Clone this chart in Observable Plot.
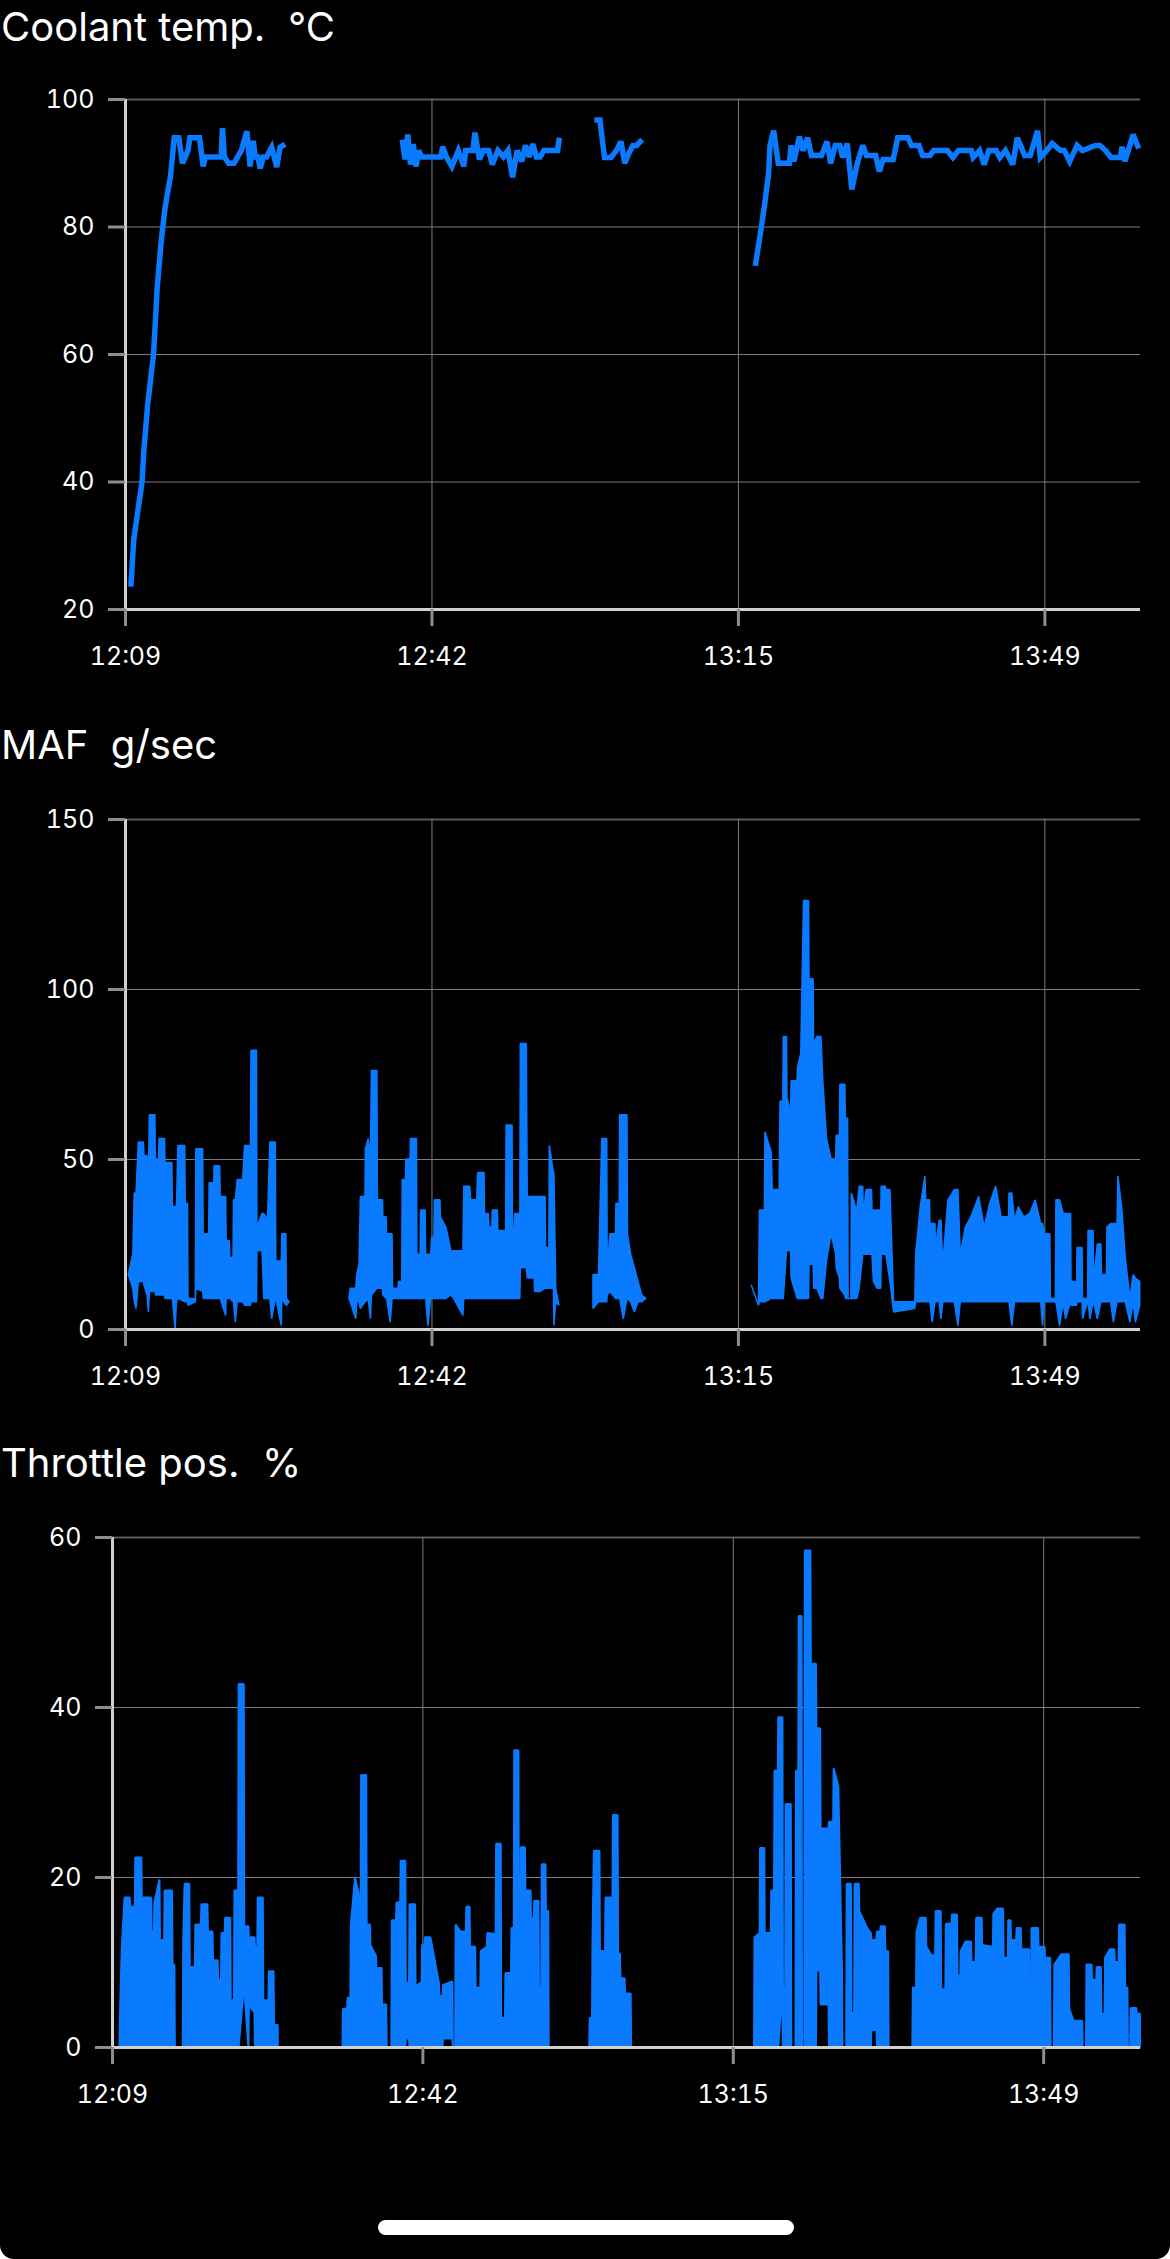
<!DOCTYPE html>
<html><head><meta charset="utf-8">
<script src="https://cdn.jsdelivr.net/npm/d3@7"></script>
<script src="https://cdn.jsdelivr.net/npm/@observablehq/plot@0.6"></script>
<style>
html,body{margin:0;padding:0;background:#fff;}
#screen{position:relative;width:1170px;height:2259px;background:#000;overflow:hidden;border-radius:0 0 14px 14px;font-family:Inter,"Noto Sans",sans-serif;}
.title{position:absolute;left:1px;color:#fff;font-size:40px;line-height:40px;white-space:pre;}
.chart{position:absolute;left:0;width:1170px;}
#homebar{position:absolute;left:378px;top:2220px;width:416px;height:15px;border-radius:7.5px;background:#fff;}
</style></head><body>
<div id="screen">
  <div class="title" style="top:6.5px">Coolant temp.  °C</div>
  <div class="chart" id="c1" style="top:60px"></div>
  <div class="title" style="top:725px">MAF  g/sec</div>
  <div class="chart" id="c2" style="top:780px"></div>
  <div class="title" style="top:1443px">Throttle pos.  %</div>
  <div class="chart" id="c3" style="top:1498px"></div>
  <div id="homebar"></div>
</div>
<script>
// time axis: minutes after 12:09
const xTicks = [0, 100/3, 200/3, 100];
const xLabels = ["12:09", "12:42", "13:15", "13:49"];
const xDomain = [0, 110.4];

// Coolant temperature (°C): [minute, value]
const coolantSeg1 = [[0.3,24],[0.6,24],[0.9,31],[1.8,40],[2.0,45],[2.4,52],[3.05,60],[3.45,70.5],[3.9,78],[4.3,83],[4.9,88],[5.3,94],[5.8,94],[6.2,90],[6.8,92],[7.0,94],[8.05,94],[8.45,89.5],[8.7,91],[10.4,91],[10.55,95.5],[10.75,91],[11.2,90],[11.8,90],[12.2,91],[12.6,92],[13.2,95],[13.55,89.5],[13.9,93.5],[14.1,91],[14.4,91],[14.65,89.2],[15.0,91],[15.35,91],[15.9,92.5],[16.45,89.4],[16.8,92.5],[17.35,93]];
const coolantSeg2 = [[30.1,93.7],[30.4,90.6],[30.7,94.5],[31.0,89.8],[31.3,93],[31.6,89.5],[31.9,92],[32.2,91],[34.3,91],[34.5,92.6],[34.9,91],[35.5,89.5],[36.2,92],[36.8,89.5],[37.0,92],[37.8,92],[38.0,94.8],[38.5,90.6],[38.9,92],[39.5,92],[39.9,89.8],[40.5,92],[41.1,91],[41.6,92],[42.1,87.8],[42.6,92],[43.1,90.3],[43.5,92.8],[43.9,91],[44.3,93],[44.7,91],[45.1,91],[45.5,92],[47.0,92],[47.2,94]];
const coolantSeg3 = [[51.0,96.8],[51.6,96.8],[52.1,90.9],[52.8,90.9],[53.4,92],[53.9,93.4],[54.3,90],[54.8,91.7],[55.2,92.8],[55.6,92.8],[56.2,93.7]];
const coolantSeg4 = [[68.5,73.9],[69.1,79.4],[69.5,83.4],[69.95,88.4],[70.1,92.8],[70.5,95.1],[71.0,90],[72.2,90],[72.4,92.8],[72.7,90.3],[73.3,94.2],[73.7,92],[74.2,94],[74.6,91.2],[75.7,91.2],[76.3,93.4],[76.7,90],[77.2,92.8],[77.7,92.8],[78.0,90.9],[78.5,93.1],[79.0,85.9],[79.6,90],[80.2,92.8],[80.6,91.2],[81.6,91.2],[82.0,88.7],[82.4,90.6],[83.5,90.6],[84.0,94],[85.1,94],[85.5,92.8],[86.3,92.8],[86.7,91.2],[87.5,91.2],[87.9,92],[89.4,92],[90.0,90.9],[90.6,92],[92.0,92],[92.2,90.9],[92.9,92],[93.4,89.8],[93.9,92],[94.7,92],[95.1,90.9],[95.7,92],[96.5,89.8],[97.0,94],[97.8,91.2],[98.4,91.2],[99.2,95.1],[99.5,90.9],[100.2,92],[100.8,93.1],[101.7,92],[102.1,92],[102.7,90.3],[103.5,92.8],[104.1,92],[105.5,92.8],[106.0,92.8],[106.6,92],[107.2,90.9],[108.2,90.9],[108.4,92.6],[108.7,90.3],[109.6,94.5],[110.2,92.3]];

// MAF (g/sec): [minute, high, low] of the densely sampled signal
const mafSeg1 = [[0.35,16,16],[0.85,22,12],[1.0,40,8],[1.2,40,6],[1.45,55,14],[2.0,55,14],[2.05,51,13],[2.4,51,10],[2.55,45,5],[2.65,63,11],[3.25,63,11],[3.3,50,10],[3.65,50,10],[3.7,56,10],[4.3,56,10],[4.35,49,9],[5.1,49,9],[5.15,36,9],[5.45,36,0],[5.6,36,8],[5.75,54,9],[6.5,54,8],[6.55,37,8],[6.8,37,8],[6.85,9,7],[7.65,9,8],[7.7,53,12],[8.45,53,11],[8.5,28,9],[9.1,28,9],[9.15,43,9],[9.65,43,9],[9.7,48,9],[10.3,48,9],[10.35,39,9],[10.95,39,4],[11.0,26,9],[11.35,26,9],[11.4,21,9],[11.75,21,8],[11.8,38,8],[12.0,38,2],[12.2,44,8],[12.8,44,8],[13.0,54,7],[13.65,54,7],[13.7,82,8],[14.3,82,8],[14.35,30,23],[14.9,34,23],[15.1,34,9],[15.5,32,9],[15.75,55,9],[15.95,55,3],[16.35,55,9],[16.4,20,9],[17.0,20,1],[17.05,28,9],[17.5,28,7],[17.55,9,7],[17.85,8,8]];
const mafSeg2 = [[24.35,9,9],[24.5,12,8],[25.1,12,3],[25.2,16,8],[25.45,19,8],[25.6,39,6],[26.1,39,8],[26.15,53,8],[26.45,56,9],[26.7,51,3],[26.8,76,10],[27.4,76,12],[27.45,38,12],[28.0,38,12],[28.05,33,10],[28.4,33,9],[28.45,28,9],[28.85,28,2],[29.05,28,9],[29.1,12,9],[29.7,12,9],[29.75,14,9],[30.1,14,9],[30.15,44,9],[30.5,44,9],[30.55,50,9],[31.0,50,9],[31.05,56,9],[31.7,56,9],[31.75,22,9],[32.1,22,9],[32.15,35,9],[32.65,35,9],[32.7,22,9],[32.95,22,1],[33.25,22,9],[33.35,27,9],[33.6,27,9],[33.65,38,9],[34.25,38,9],[34.3,33,9],[34.9,30,9],[35.45,23,10],[35.75,23,9],[36.75,23,4],[36.85,42,9],[37.5,42,9],[37.6,38,9],[38.25,38,9],[38.35,46,9],[39.05,46,9],[39.1,34,9],[39.5,34,9],[39.6,30,9],[39.9,30,9],[39.95,35,9],[40.5,35,9],[40.55,29,9],[41.4,29,9],[41.45,60,9],[42.1,60,9],[42.15,23,9],[42.4,34,9],[42.95,34,9],[43.0,84,18],[43.65,84,18],[43.75,39,15],[44.5,39,15],[44.55,39,11],[45.1,39,11],[45.7,39,12],[45.75,24,12],[46.1,24,12],[46.15,54,12],[46.6,46,12],[46.65,46,1],[46.85,12,8],[47.2,7,7]];
const mafSeg3 = [[50.9,16,6],[51.5,16,8],[51.85,56,8],[52.4,56,8],[52.45,18,10],[52.75,28,11],[53.35,28,9],[53.4,37,9],[53.75,37,9],[53.8,63,9],[54.2,63,3],[54.6,63,9],[54.65,28,9],[55.0,22,8],[55.4,18,5],[55.8,14,8],[56.2,10,8],[56.65,9,9]];
const mafSeg4 = [[68.1,13,13],[68.9,7,7],[69.0,35,8],[69.55,35,8],[69.6,58,8],[70.3,52,9],[70.4,41,9],[71.15,41,9],[71.25,67,9],[71.55,67,9],[71.6,86,9],[71.95,86,23],[72.0,68,23],[72.4,64,23],[72.45,73,15],[73.1,73,9],[73.15,77,9],[73.5,81,9],[73.8,126,9],[74.35,126,9],[74.4,103,19],[74.85,103,19],[74.9,84,12],[75.25,86,12],[75.7,86,9],[75.9,73,9],[76.3,56,20],[76.8,50,28],[77.3,50,22],[77.35,57,18],[77.7,57,15],[77.75,72,12],[78.3,72,10],[78.35,62,9],[78.6,62,9],[78.65,9,9],[78.95,9,9],[79.0,40,9],[79.55,35,9],[79.6,35,9],[79.85,42,12],[80.25,42,22],[80.3,33,22],[80.6,41,22],[81.2,41,22],[81.25,35,22],[81.4,35,14],[81.8,35,12],[82.2,35,12],[82.25,42,22],[82.7,42,22],[82.75,41,22],[83.2,41,14],[83.6,8,5],[85.9,8,6],[86.0,22,8],[86.5,36,8],[87.0,45,8],[87.1,38,8],[87.5,38,8],[87.55,31,8],[87.8,31,2],[88.1,31,8],[88.15,24,8],[88.55,32,8],[88.75,32,3],[88.95,19,8],[89.5,38,8],[90.2,41,8],[90.6,41,1],[90.85,22,8],[91.4,30,8],[92.0,33,8],[92.85,39,8],[93.45,30,8],[94.05,37,8],[94.7,42,8],[95.3,33,8],[96.1,33,8],[96.15,40,8],[96.45,40,1],[96.75,32,8],[97.15,36,8],[97.75,33,8],[98.4,34,8],[99.0,38,8],[99.6,31,8],[99.8,31,1],[100.0,28,8],[100.6,28,8],[100.65,9,8],[101.2,9,8],[101.25,38,8],[101.65,38,1],[102.05,34,8],[102.3,34,3],[102.85,34,8],[102.9,14,7],[103.5,14,7],[103.55,24,8],[104.1,24,8],[104.15,9,3],[104.7,9,8],[104.75,29,8],[104.95,29,3],[105.3,29,8],[105.35,14,8],[105.75,25,3],[106.15,25,8],[106.2,16,8],[106.75,16,8],[106.8,30,8],[107.2,31,8],[107.5,31,2],[107.9,31,8],[108.0,45,8],[108.4,36,8],[108.8,21,8],[109.3,9,2],[109.65,16,8],[109.9,15,2],[110.37,14,7]];

// Throttle position (%): [minute, high, low]
const thrSeg1 = [[0.4,0,0],[0.8,0,0],[0.85,3.4,0],[1.05,11.8,0],[1.35,17.6,0],[1.9,17.6,0],[1.95,16.5,0],[2.45,16.5,0],[2.5,22.3,0],[3.15,22.3,0],[3.2,17.3,0],[3.4,17.6,0],[4.2,17.6,0],[4.25,13.6,0],[4.5,13.6,0],[4.55,17,0],[5.1,19.7,0],[5.15,12.6,0],[5.6,12.6,0],[5.65,18.4,0],[6.45,18.4,0],[6.5,9.7,0],[6.7,9.7,0],[6.75,0,0],[7.6,0,0],[7.65,12.6,0],[7.8,19.2,0],[8.3,19.2,0],[8.35,9.4,0],[8.9,9.4,0],[8.95,14.4,0],[9.55,14.4,0],[9.6,16.8,0],[10.25,16.8,0],[10.3,13.6,0],[10.8,13.6,0],[10.85,10.2,0],[11.35,10.2,0],[11.4,7.9,0],[11.7,7.9,0],[11.75,13.4,0],[12.1,13.4,0],[12.15,15.2,0],[12.7,15.2,0],[12.75,5.5,0],[13.1,5.5,0],[13.15,18.4,0],[13.55,18.4,0],[13.6,42.7,0],[14.15,42.7,7],[14.2,14.2,7],[14.65,14.2,0],[14.7,12.9,5],[15.3,12.9,4],[15.35,11.8,0],[15.6,11.8,0],[15.65,17.6,0],[16.2,17.6,0],[16.25,5.5,0],[16.8,5.5,0],[16.85,8.9,0],[17.35,8.9,0],[17.4,2.6,0],[17.8,2.6,0]];
const thrSeg2 = [[24.45,0,0],[24.75,0,0],[24.8,4.5,0],[25.25,4.5,0],[25.3,5.8,0],[25.6,5.8,0],[25.65,14.4,0],[26.1,19.9,0],[26.5,18,0],[26.55,14.4,0],[26.7,14.4,0],[26.75,32,0],[27.3,32,0],[27.35,14.4,0],[27.7,14.4,0],[27.75,12,0],[28.35,10.7,0],[28.4,9.3,0],[28.95,9.3,0],[29.0,5,0],[29.45,5,0],[29.5,0,0],[30.0,0,0],[30.05,14.9,0],[30.5,14.9,0],[30.55,17,0],[30.95,17,0],[31.0,21.9,0],[31.5,21.9,0],[31.55,7.6,1],[31.9,7.6,1],[31.95,16.8,0],[32.55,16.8,0],[32.6,7.2,0],[33.25,7.6,0],[33.3,12,0],[33.55,12,0],[33.6,12.9,0],[34.2,12.9,0],[35.1,7.6,0],[35.15,6,0],[35.5,6,0],[35.55,7.3,1],[36.55,7.7,1],[36.6,0,0],[36.85,0,0],[36.9,14.4,0],[37.4,13.6,0],[38.0,13.6,0],[38.05,16.5,0],[38.4,16.5,0],[38.45,11.8,0],[39.0,11.8,0],[39.05,7,0],[39.55,7,0],[39.6,11.3,0],[40.25,11.8,0],[40.3,13.4,0],[41.2,13.3,0],[41.25,23.9,0],[41.75,23.9,0],[41.8,3.4,0],[42.2,3.4,0],[42.25,8.7,0],[42.85,8.7,0],[42.9,14,0],[43.15,14,0],[43.2,34.9,0],[43.65,34.9,0],[43.7,5,0],[43.85,5,0],[43.9,23.5,0],[44.35,23.5,0],[44.4,18.4,0],[44.95,18.4,0],[45.0,15.2,0],[45.3,15.2,0],[45.35,17.2,0],[45.8,17.2,0],[45.85,7,0],[46.1,7,0],[46.15,21.5,0],[46.55,21.5,0],[46.6,16,0],[46.85,16,0],[46.9,0,0],[47.05,0,0]];
const thrSeg3 = [[50.95,0,0],[51.25,0,0],[51.3,3.4,0],[51.55,3.4,0],[51.6,12.3,0],[51.75,23.1,0],[52.35,23.1,0],[52.4,11.3,0],[52.95,11.3,0],[53.0,17.6,0],[53.75,17.6,0],[53.8,27.3,0],[54.3,27.3,0],[54.35,11,0],[54.55,11,0],[54.6,8.1,0],[55.05,8.1,0],[55.1,6.3,0],[55.7,6.3,0],[55.75,0,0],[56.2,0,0]];
const thrSeg4 = [[68.15,0,0],[68.95,0,0],[69.0,12.9,0],[69.55,13.4,0],[69.6,23.4,0],[70.05,23.4,0],[70.1,13.4,0],[70.75,13.4,0],[70.8,18.4,0],[71.1,18.4,0],[71.15,32.5,0],[71.5,32.5,0],[71.55,38.8,0],[72.0,38.8,7],[72.05,7,0],[72.3,7,0],[72.35,28.6,0],[72.9,28.6,0],[72.95,0,0],[73.4,0,0],[73.45,32.5,0],[73.7,32.5,0],[73.75,50.7,0],[74.05,50.7,0],[74.1,0,0],[74.35,0,0],[74.4,58.4,0],[75.0,58.4,0],[75.05,45.1,0],[75.6,45.1,0],[75.65,37.5,9],[76.05,37.5,9],[76.1,25.7,5],[76.95,25.7,5],[77.0,26.5,0],[77.45,26.5,0],[77.5,32.8,0],[78.0,30.7,0],[78.4,9,0],[78.45,0,0],[78.85,0,0],[78.9,19.2,0],[79.35,19.2,0],[79.4,4,0],[79.7,4,0],[79.75,19.2,0],[80.2,19.2,0],[80.25,16,0],[81.1,14,0],[81.5,13.4,0],[81.55,12.6,2],[82.1,12.6,2],[82.15,13.6,0],[82.5,13.6,0],[82.55,14.2,0],[83.0,14.2,0],[83.05,11.3,0],[83.35,11.3,0],[83.4,0,0],[85.95,0,0],[86.0,7,0],[86.35,7,0],[86.4,13.6,0],[86.8,15.2,0],[87.4,15.2,0],[87.45,11.8,0],[88.0,10.8,0],[88.4,10.8,0],[88.45,16,0],[89.0,16,0],[89.05,6.8,0],[89.5,6.8,0],[89.55,14.5,0],[90.15,14.5,0],[90.2,15.6,0],[90.75,15.6,0],[90.8,8.4,0],[91.1,8.4,0],[91.15,11.3,0],[91.65,12.4,0],[92.25,12.4,0],[92.3,10,0],[92.75,10,0],[92.8,15.2,0],[93.4,15.2,0],[93.45,12,0],[94.6,11.8,0],[94.65,15.7,0],[95.1,16.3,0],[95.7,16.3,0],[95.75,10.5,0],[96.2,10.5,0],[96.25,14.9,0],[96.5,14.9,0],[96.55,12.6,0],[97.1,12.6,0],[97.15,14,0],[97.6,14,0],[97.65,11.5,0],[98.5,11.5,0],[98.55,0,0],[98.7,0,0],[98.75,14,0],[99.45,14,0],[99.5,11.8,0],[100.15,11.8,0],[100.2,10.5,0],[100.75,10.5,0],[100.8,0,0],[101.15,0,0],[101.2,9.7,0],[101.95,10.9,0],[102.75,10.9,0],[102.8,4.5,0],[103.25,3.1,0],[104.2,3.1,0],[104.25,0,0],[104.6,0,0],[104.65,9.7,0],[105.2,9.7,0],[105.25,7.9,0],[105.7,7.9,0],[105.75,9.4,0],[106.2,9.4,0],[106.25,3.9,0],[106.6,3.9,0],[106.65,10.5,0],[107.15,11.5,0],[107.65,11.5,0],[107.7,10,0],[108.1,10,0],[108.15,14.4,0],[108.75,14.4,0],[108.8,7,0],[109.05,7,0],[109.1,0,0],[109.35,0,0],[109.4,4.6,0],[110.0,4.6,0],[110.05,3.9,0],[110.4,3.9,0]];

const coolantTicks = [20, 40, 60, 80, 100];
const mafTicks = [0, 50, 100, 150];
const thrTicks = [0, 20, 40, 60];

const BLUE = "#0a7aff";

function rowsOf(segs, keys) {
  return segs.flatMap((s, i) => s.map(p => {
    const o = {seg: i};
    keys.forEach((k, j) => o[k] = p[j]);
    return o;
  }));
}

const coolantRows = rowsOf([coolantSeg1, coolantSeg2, coolantSeg3, coolantSeg4], ["t", "v"]);
const mafRows = rowsOf([mafSeg1, mafSeg2, mafSeg3, mafSeg4], ["t", "hi", "lo"]);
const thrRows = rowsOf([thrSeg1, thrSeg2, thrSeg3, thrSeg4], ["t", "hi", "lo"]);

function build(dataMark, yTicks, marginLeft) {
  const yDomain = [yTicks[0], yTicks[yTicks.length - 1]];
  return Plot.plot({
    width: 1170, height: 620,
    marginTop: 39, marginBottom: 71, marginLeft, marginRight: 30,
    style: {background: "transparent", color: "#fff", fontFamily: "Inter, 'Noto Sans', sans-serif", overflow: "visible"},
    x: {domain: xDomain},
    y: {domain: yDomain},
    marks: [
      Plot.gridY(yTicks.slice(0, -1), {stroke: "#7c7c7c", strokeOpacity: 1, strokeWidth: 1}),
      Plot.gridY(yTicks.slice(-1), {stroke: "#5a5a5a", strokeOpacity: 1, strokeWidth: 2}),
      Plot.gridX(xTicks.slice(1), {stroke: "#7c7c7c", strokeOpacity: 1, strokeWidth: 1}),
      dataMark,
      Plot.ruleX([xDomain[0]], {stroke: "#d0d0d0", strokeWidth: 3}),
      Plot.ruleY([yDomain[0]], {stroke: "#d0d0d0", strokeWidth: 3}),
      Plot.axisY({ticks: yTicks, tickSize: 17, tickPadding: 14, stroke: "#8e8e8e", strokeWidth: 3, fill: "#fff", fontSize: 25, label: null}),
      Plot.axisX({ticks: xTicks, tickFormat: d => xLabels[xTicks.indexOf(d)], tickSize: 17, tickPadding: 21, stroke: "#8e8e8e", strokeWidth: 3, fill: "#fff", fontSize: 25, label: null})
    ]
  });
}

document.getElementById("c1").append(build(
  Plot.line(coolantRows, {x: "t", y: "v", z: "seg", stroke: BLUE, strokeWidth: 5.5, strokeLinecap: "butt", strokeLinejoin: "miter", strokeMiterlimit: 3}),
  coolantTicks, 125));
document.getElementById("c2").append(build(
  Plot.areaY(mafRows, {x: "t", y1: "lo", y2: "hi", z: "seg", fill: BLUE, stroke: BLUE, strokeWidth: 1.5, strokeLinejoin: "miter"}),
  mafTicks, 125));
document.getElementById("c3").append(build(
  Plot.areaY(thrRows, {x: "t", y1: "lo", y2: "hi", z: "seg", fill: BLUE, stroke: BLUE, strokeWidth: 2, strokeLinejoin: "miter"}),
  thrTicks, 112));
</script>
</body></html>
